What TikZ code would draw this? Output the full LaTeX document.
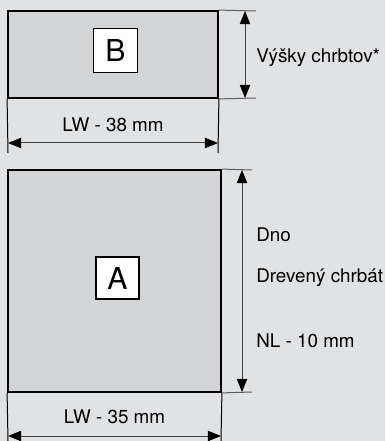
\documentclass[tikz,border=0pt]{standalone}
\usepackage{fontspec}
\setmainfont{TeX Gyre Heros}
\usepackage{xcolor}
\usetikzlibrary{arrows.meta}

\definecolor{bgcol}{RGB}{225,226,228}
\definecolor{panelcol}{RGB}{211,212,214}
\definecolor{extcol}{RGB}{95,95,95}

\tikzset{
  panel/.style={draw=black, line width=0.45mm, fill=panelcol, rectangle, inner sep=0pt},
  tag/.style={draw=black, line width=0.4mm, fill=white, rectangle, inner sep=0pt,
    minimum width=11mm, minimum height=11mm, font=\fontsize{21.5}{25}\selectfont},
  dimtext/.style={inner sep=0pt, font=\fontsize{13.4}{15}\selectfont},
  extline/.style={draw=extcol, line width=0.25mm},
  dimarrow/.style={draw=black!75, line width=0.25mm,
    {Triangle[length=3.3mm, width=2.6mm, color=black]}-{Triangle[length=3.3mm, width=2.6mm, color=black]}}
}

\begin{document}
\begin{tikzpicture}[x=0.25mm, y=-0.25mm]
        \path[use as bounding box, clip] (0,0) rectangle (385,441);
        \fill[bgcol] (0,0) rectangle (385,441);

        % upper panel
        \node[panel, minimum width=52.5mm, minimum height=21.75mm] (boxB) at (113,54.5) {};
        \node[tag] (tagB) at (115.5,50.5) {B};

        \coordinate (bExtTop) at (256,11);
        \coordinate (bExtBot) at (256,98);
        \coordinate (bArrTop) at (245,11);
        \coordinate (bArrBot) at (245,98);
        \coordinate (bExtL) at (8,153);
        \coordinate (bExtR) at (218,153);
        \coordinate (bArrL) at (8,143);
        \coordinate (bArrR) at (218,143);

        \draw[extline] (boxB.north east) -- (bExtTop);
        \draw[extline] (boxB.south east) -- (bExtBot);
        \draw[dimarrow] (bArrTop) -- (bArrBot);
        \draw[extline, draw=black] (boxB.south west) -- (bExtL);
        \draw[extline, draw=black] (boxB.south east) -- (bExtR);
        \draw[dimarrow] (bArrL) -- (bArrR);

        \node[dimtext, anchor=base west] (labHeight) at (256,62.7) {Výšky chrbtov*};
        \node[dimtext, anchor=base] (labWidthB) at (113,131.7) {LW - 38 mm};

        % lower panel
        \node[panel, minimum width=53.25mm, minimum height=55.5mm] (boxA) at (114.5,281) {};
        \node[tag, minimum width=10.75mm, minimum height=10.5mm] (tagA) at (117.5,278) {A};

        \coordinate (aExtTop) at (252,170);
        \coordinate (aExtBot) at (252,392);
        \coordinate (aArrTop) at (242,170);
        \coordinate (aArrBot) at (242,392);
        \coordinate (aExtL) at (8,441);
        \coordinate (aExtR) at (221,441);
        \coordinate (aArrL) at (8,436);
        \coordinate (aArrR) at (221,436);

        \draw[extline] (boxA.north east) -- (aExtTop);
        \draw[extline] (boxA.south east) -- (aExtBot);
        \draw[dimarrow] (aArrTop) -- (aArrBot);
        \draw[extline, draw=black] (boxA.south west) -- (aExtL);
        \draw[extline, draw=black] (boxA.south east) -- (aExtR);
        \draw[dimarrow] (aArrL) -- (aArrR);

        \node[dimtext, anchor=base west] (labBottom) at (256,241) {Dno};
        \node[dimtext, anchor=base west] (labWood) at (256,282) {Drevený chrbát};
        \node[dimtext, anchor=base west] (labDepth) at (256,347) {NL - 10 mm};
        \node[dimtext, anchor=base] (labWidthA) at (114.5,423) {LW - 35 mm};
\end{tikzpicture}
\end{document}
